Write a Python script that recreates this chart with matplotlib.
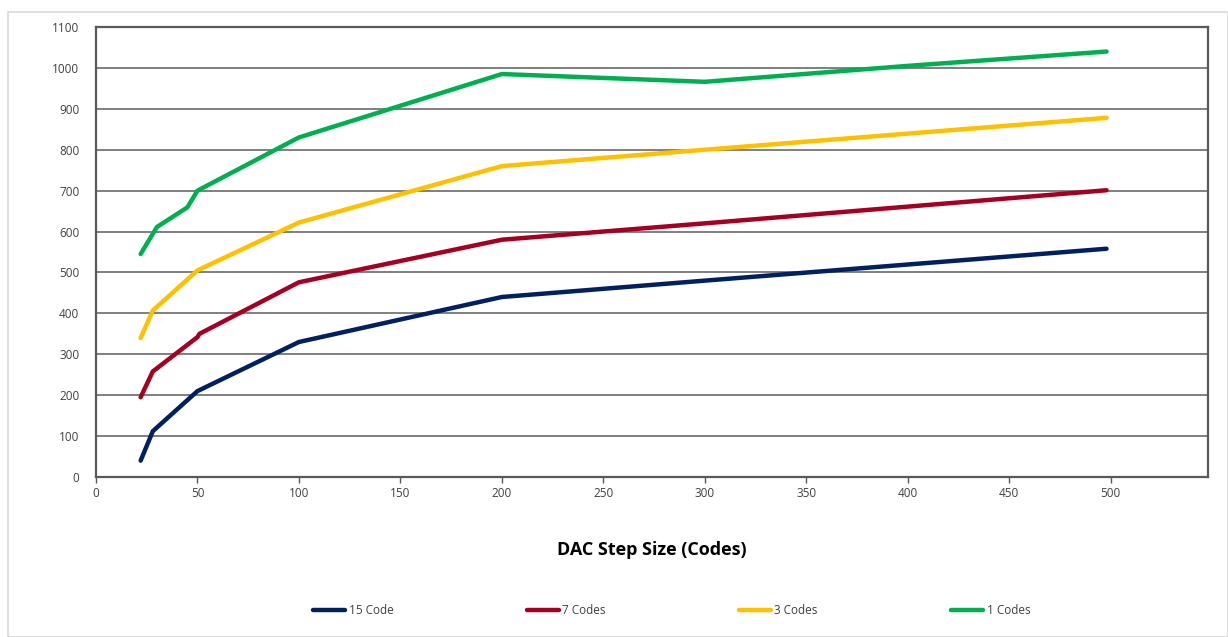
import matplotlib.pyplot as plt
from matplotlib.patches import Rectangle

# Data
blue_x = [22, 28, 50, 100, 200, 300, 498]
blue_y = [40, 112, 210, 330, 440, 480, 558]
red_x = [22, 28, 50, 51, 100, 200, 300, 498]
red_y = [195, 258, 342, 350, 476, 580, 620, 701]
yellow_x = [22, 28, 50, 100, 200, 300, 498]
yellow_y = [340, 407, 505, 622, 760, 800, 878]
green_x = [22, 30, 45, 50, 100, 200, 300, 400, 498]
green_y = [545, 611, 659, 700, 830, 985, 966, 1005, 1040]

labels = ['15 Code', '7 Codes', '3 Codes', '1 Codes']
colors = ['#002060', '#A50021', '#FFC000', '#00B050']

plt.rcParams['font.family'] = ['Open Sans', 'DejaVu Sans']

fig = plt.figure(figsize=(12.28, 6.37), dpi=100)
fig.patches.append(Rectangle((8 / 1228, 0), 1 - 8 / 1228, 1 - 12 / 637, transform=fig.transFigure,
                             fill=False, edgecolor='#d9d9d9', linewidth=1.2))

ax = fig.add_axes([96 / 1228, 1 - 477 / 637, (1208 - 96) / 1228, (477 - 27) / 637])

series = [(blue_x, blue_y), (red_x, red_y), (yellow_x, yellow_y), (green_x, green_y)]
for (xs, ys), lab, c in zip(series, labels, colors):
    ax.plot(xs, ys, color=c, linewidth=3.2, label=lab, solid_capstyle='round', solid_joinstyle='round')

ax.set_xlim(0, 548)
ax.set_ylim(0, 1100)
ax.set_xticks(range(0, 501, 50))
ax.set_yticks(range(0, 1101, 100))
ax.grid(axis='y', color='#7f7f7f', linewidth=1.4)
ax.set_axisbelow(True)
for s in ax.spines.values():
    s.set_color('#595959')
    s.set_linewidth(1.6)
ax.tick_params(axis='x', length=4, width=1, color='#595959', labelsize=8.5, labelcolor='#404040', pad=3)
ax.tick_params(axis='y', length=0, labelsize=8.5, labelcolor='#404040', pad=12)

ax.set_xlabel('DAC Step Size (Codes)', fontsize=13, fontweight='bold', labelpad=30)

fig.legend(loc='center', bbox_to_anchor=(0.547, 0.042), ncol=4, frameon=False, fontsize=8.5,
           handlelength=2.7, handletextpad=0.3, columnspacing=11.3, labelcolor='#404040')

fig.savefig('out.png', dpi=100)
